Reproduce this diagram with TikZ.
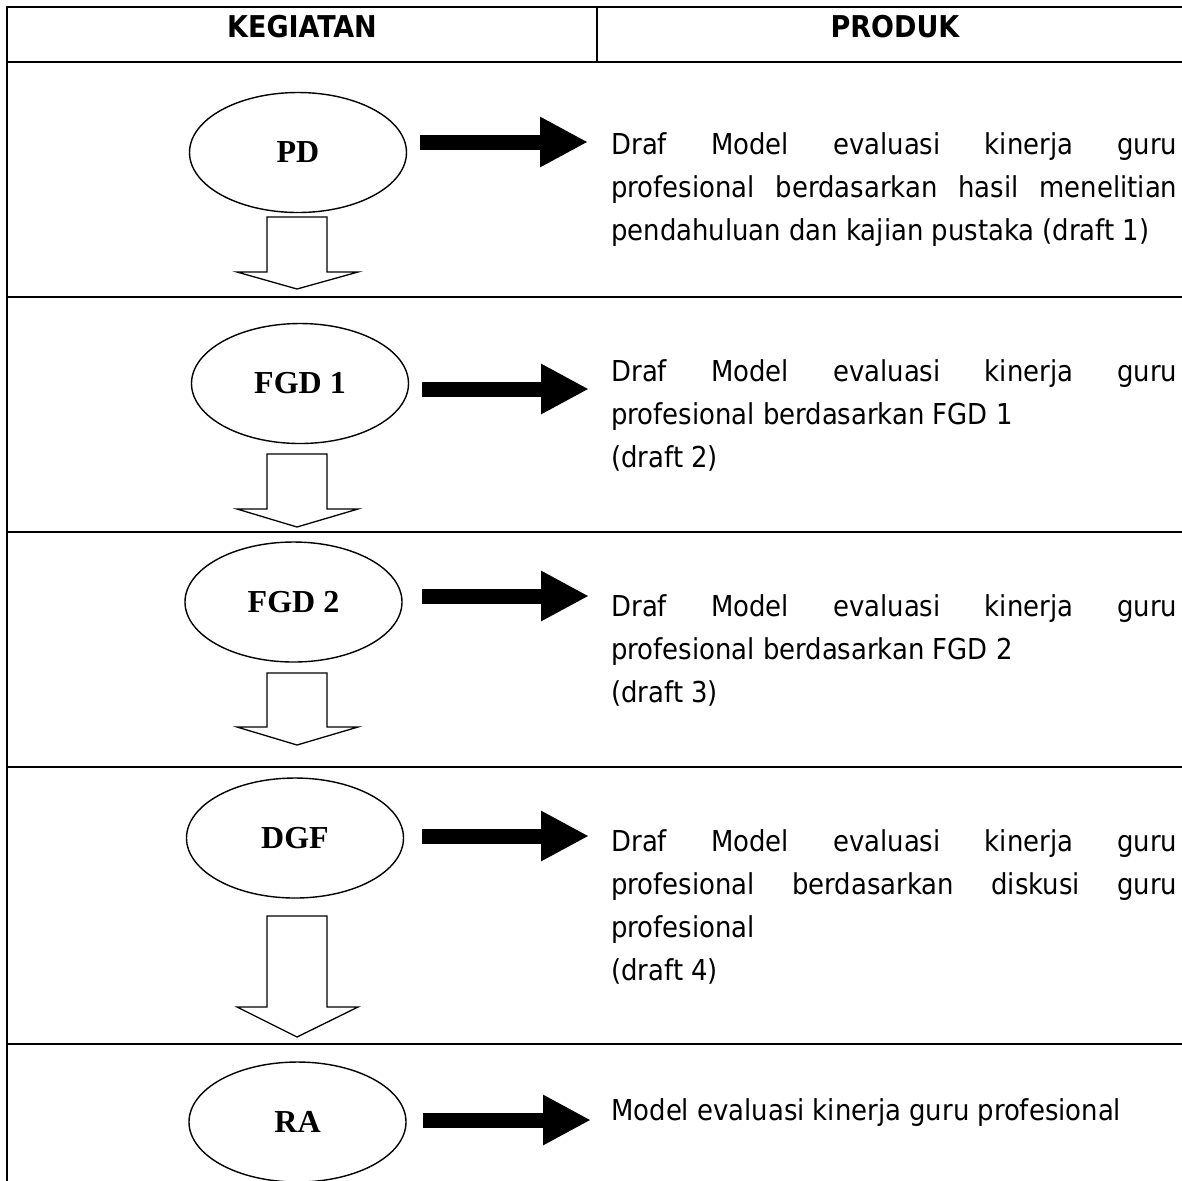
\documentclass[tikz,border=0pt]{standalone}
\usepackage{fontspec}
\setmainfont{DejaVu Sans Condensed}
\newfontfamily\labelfont{Liberation Serif}
\usetikzlibrary{arrows.meta,shapes.geometric}
\tikzset{
  tline/.style={line width=1pt},
  hcell/.style={anchor=base, inner sep=0pt, font=\fontsize{15}{18}\selectfont\bfseries},
  kstep/.style={draw, ellipse, line width=0.7pt, minimum width=108.5pt, minimum height=60pt, inner sep=0pt, font=\labelfont\fontsize{16}{19}\selectfont\bfseries},
  ptext/.style={anchor=base west, inner sep=0pt, font=\fontsize{14.4}{21.5}\selectfont},
  solidarrow/.style={line width=7.5pt, -{Triangle[length=24pt,width=23.5pt]}},
  hollowarrow/.style={draw, line width=0.65pt, line join=miter, fill=white}
}
\newcommand{\jl}[1]{\makebox[\linewidth][s]{#1}}
\newcommand{\ptxt}[1]{\parbox[t]{283pt}{#1}}
\newcommand{\blockdown}[3]{\draw[hollowarrow] (#1) ++(-30,0) -- ++(0,#2) -- ++(-30,0) -- ++(60,#3) -- ++(61,-#3) -- ++(-31,0) -- ++(0,-#2) -- cycle;}

\begin{document}
\begin{tikzpicture}[x=0.5pt,y=-0.5pt]
\useasboundingbox (0,0) rectangle (1182,1180);

% table
\draw[tline] (1182,7) -- (7,7) -- (7,1182);
\draw[tline] (597,7) -- (597,62);
\foreach \r in {62,297,532,767,1044}
  \draw[tline] (7,\r) -- (1182,\r);

\node[hcell] (hkeg) at (302,37) {KEGIATAN};
\node[hcell] (hprod) at (895,37) {PRODUK};

% kegiatan
\node[kstep] (pd) at (298,152.5) {PD};
\node[kstep] (fgda) at (300,383.5) {FGD 1};
\node[kstep] (fgdb) at (293.5,602) {FGD 2};
\node[kstep] (dgf) at (295,838) {DGF};
\node[kstep] (ra) at (297.5,1122) {RA};

% produk
\node[ptext] (tpd) at (611,154) {\ptxt{\jl{Draf Model evaluasi kinerja guru}\\
  \jl{profesional berdasarkan hasil menelitian}\\
  pendahuluan dan kajian pustaka (draft 1)}};
\node[ptext] (tfgda) at (611,381) {\ptxt{\jl{Draf Model evaluasi kinerja guru}\\
  profesional berdasarkan FGD 1\\
  (draft 2)}};
\node[ptext] (tfgdb) at (611,616) {\ptxt{\jl{Draf Model evaluasi kinerja guru}\\
  profesional berdasarkan FGD 2\\
  (draft 3)}};
\node[ptext] (tdgf) at (611,851) {\ptxt{\jl{Draf Model evaluasi kinerja guru}\\
  \jl{profesional berdasarkan diskusi guru}\\
  profesional\\
  (draft 4)}};
\node[ptext] (tra) at (611,1120) {\ptxt{Model evaluasi kinerja guru profesional}};

% arrows
\coordinate (pdtail) at (420,142);   \coordinate (pdtip) at (588,142);
\coordinate (fgdatail) at (422,389); \coordinate (fgdatip) at (589,389);
\coordinate (fgdbtail) at (422,596); \coordinate (fgdbtip) at (589,596);
\coordinate (dgftail) at (422,836);  \coordinate (dgftip) at (589,836);
\coordinate (ratail) at (423,1120);  \coordinate (ratip) at (591,1120);
\draw[solidarrow] (pdtail) -- (pdtip);
\draw[solidarrow] (fgdatail) -- (fgdatip);
\draw[solidarrow] (fgdbtail) -- (fgdbtip);
\draw[solidarrow] (dgftail) -- (dgftip);
\draw[solidarrow] (ratail) -- (ratip);

\coordinate (pdout) at (297,217);
\coordinate (fgdaout) at (297,454);
\coordinate (fgdbout) at (297,673);
\coordinate (dgfout) at (297,916);
\blockdown{pdout}{55}{17}
\blockdown{fgdaout}{55}{18}
\blockdown{fgdbout}{54}{18}
\blockdown{dgfout}{91}{30}
\end{tikzpicture}
\end{document}
